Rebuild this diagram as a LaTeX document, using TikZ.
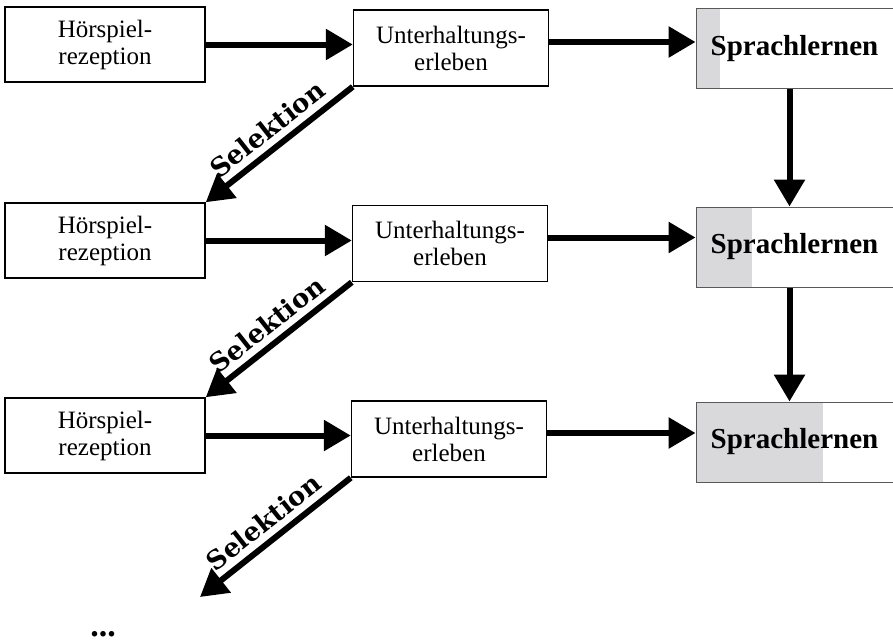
\documentclass[tikz,border=0pt]{standalone}
\usepackage{fontspec}
\setmainfont{Liberation Serif}
\newfontfamily\selfont{DejaVu Serif}
\usepackage{xcolor}
\usetikzlibrary{positioning, arrows.meta}
\definecolor{lerngrau}{RGB}{217,217,220}

\begin{document}
\begin{tikzpicture}[x=1pt,y=-1pt]
					\tikzstyle{hoerbox}=[draw=black,line width=1.5pt,minimum width=200pt,minimum height=75pt,align=center,inner sep=0pt,font=\fontsize{25}{27}\selectfont]
					\tikzstyle{erlebbox}=[hoerbox,minimum width=195pt,minimum height=76pt]
					\tikzstyle{lernbox}=[draw=black!65,line width=1pt,minimum width=197pt,minimum height=80pt,inner sep=0pt,font=\fontsize{29}{30}\selectfont\bfseries,
						path picture={\fill[lerngrau] (path picture bounding box.north west) rectangle ([xshift=#1]path picture bounding box.south west);}]
					\tikzstyle{pfeil}=[line width=6pt,-{Triangle[length=27pt,width=30pt]}]
					\tikzstyle{wahl}=[font=\fontsize{26}{26}\selfont\bfseries,sloped,above=3pt]
					\useasboundingbox (0,0) rectangle (893,643);
					\node[hoerbox](h1) at (105,44.5){Hörspiel-\\rezeption};
					\node[hoerbox](h2) at (105,240.5){Hörspiel-\\rezeption};
					\node[hoerbox](h3) at (105,435.5){Hörspiel-\\rezeption};
					\node[erlebbox](u1) at (451,48){Unterhaltungs-\\erleben};
					\node[erlebbox](u2) at (450,243.5){Unterhaltungs-\\erleben};
					\node[erlebbox](u3) at (449,439){Unterhaltungs-\\erleben};
					\node[lernbox=24pt](s1) at (794.5,48.5){Sprachlernen};
					\node[lernbox=56pt](s2) at (794.5,247){Sprachlernen};
					\node[lernbox=127pt](s3) at (794.5,442){Sprachlernen};
					\coordinate(weiter) at (200,597);
					\node[font=\fontsize{34}{34}\selectfont\bfseries,inner sep=0pt,anchor=base](dots) at (103,636){...};
					\path[pfeil]
						(h1.east) edge node {}(h1.east -| u1.west)
						(h2.east) edge node {}(h2.east -| u2.west)
						(h3.east) edge node {}(h3.east -| u3.west)
						([yshift=6pt]u1.east) edge node {}([yshift=6pt]u1.east -| s1.west)
						([yshift=6pt]u2.east) edge node {}([yshift=6pt]u2.east -| s2.west)
						([yshift=6pt]u3.east) edge node {}([yshift=6pt]u3.east -| s3.west)
						([xshift=-5pt]s1.south) edge node {}([xshift=-5pt]s2.north)
						([xshift=-5pt]s2.south) edge node {}([xshift=-5pt]s3.north)
						(u1.south west) edge node[wahl] {Selektion}(h2.north east)
						(u2.south west) edge node[wahl] {Selektion}(h3.north east)
						(u3.south west) edge node[wahl] {Selektion}(weiter);
				\end{tikzpicture}
\end{document}
